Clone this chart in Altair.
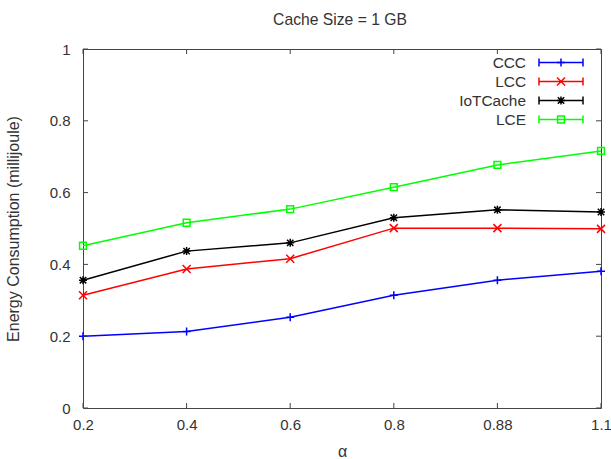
import altair as alt
import pandas as pd

# ---- data ----
alpha_labels = ["0.2", "0.4", "0.6", "0.8", "0.88", "1.1"]
series_names = ["CCC", "LCC", "IoTCache", "LCE"]
ccc = [0.200, 0.213, 0.253, 0.314, 0.356, 0.381]
lcc = [0.314, 0.387, 0.416, 0.501, 0.501, 0.499]
iotcache = [0.356, 0.437, 0.460, 0.530, 0.552, 0.546]
lce = [0.452, 0.516, 0.554, 0.615, 0.677, 0.716]
y_ticks = [0, 0.2, 0.4, 0.6, 0.8, 1.0]

colors = ["#0000ff", "#ff0000", "#000000", "#00ff00"]
shapes = [
    "M-1,0L1,0M0,-1L0,1",                                  # +
    "M-1,-1L1,1M-1,1L1,-1",                                # x
    "M-1,0L1,0M0,-1L0,1M-0.8,-0.8L0.8,0.8M-0.8,0.8L0.8,-0.8",  # asterisk
    "M-0.85,-0.85L0.85,-0.85L0.85,0.85L-0.85,0.85Z",       # open square
]

rows = []
for name, vals in zip(series_names, [ccc, lcc, iotcache, lce]):
    for a, v in zip(alpha_labels, vals):
        rows.append({"alpha": a, "energy": v, "series": name})
df = pd.DataFrame(rows)

W, H = 518, 359
FONT = "Liberation Sans"
TXT = "#333333"

xenc = alt.X(
    "alpha:O",
    sort=alpha_labels,
    scale=alt.Scale(type="point", padding=0, domain=alpha_labels),
    axis=alt.Axis(
        title="α", labelAngle=0, tickSize=0, domain=False, labelPadding=9,
        labelFontSize=15, titleFontSize=16, titlePadding=11,
        labelFont=FONT, titleFont=FONT, labelColor=TXT, titleColor=TXT,
        titleFontWeight="normal",
    ),
)
yscale = alt.Scale(domain=[0, 1], nice=False, zero=True)
yenc = alt.Y(
    "energy:Q",
    scale=yscale,
    axis=alt.Axis(
        title="Energy Consumption (millijoule)", values=y_ticks, tickSize=0,
        domain=False, grid=False, labelPadding=13, labelFontSize=15,
        titleFontSize=16, titlePadding=28, labelFont=FONT, titleFont=FONT,
        labelColor=TXT, titleColor=TXT, titleFontWeight="normal",
        labelExpr="datum.value == 0 ? '0' : datum.value == 1 ? '1' : format(datum.value, '.1f')",
    ),
)
color_enc = alt.Color("series:N", scale=alt.Scale(domain=series_names, range=colors), legend=None)
shape_enc = alt.Shape("series:N", scale=alt.Scale(domain=series_names, range=shapes), legend=None)

base = alt.Chart(df)
lines = base.mark_line(strokeWidth=1.5).encode(x=xenc, y=yenc, color=color_enc, detail="series:N")
points = base.mark_point(filled=False, size=64, strokeWidth=1.5, opacity=1).encode(
    x=alt.X("alpha:O", sort=alpha_labels), y="energy:Q", color=color_enc, shape=shape_enc
)

# inward tick marks (gnuplot style, mirrored)
xt = alt.Chart(pd.DataFrame({"alpha": alpha_labels}))
xticks_bottom = xt.mark_rule(color="#444", strokeWidth=1).encode(
    x=alt.X("alpha:O", sort=alpha_labels), y=alt.value(H), y2=alt.value(H - 5))
xticks_top = xt.mark_rule(color="#444", strokeWidth=1).encode(
    x=alt.X("alpha:O", sort=alpha_labels), y=alt.value(0), y2=alt.value(5))
yt = alt.Chart(pd.DataFrame({"energy": y_ticks}))
yticks_left = yt.mark_rule(color="#444", strokeWidth=1).encode(
    y="energy:Q", x=alt.value(0), x2=alt.value(5))
yticks_right = yt.mark_rule(color="#444", strokeWidth=1).encode(
    y="energy:Q", x=alt.value(W), x2=alt.value(W - 5))

# manual legend (label left, sample right)
legend_layers = []
for i, (name, col, shp) in enumerate(zip(series_names, colors, shapes)):
    ly = 13.5 + 19 * i
    ld = alt.Chart(pd.DataFrame({"series": [name]}))
    legend_layers.append(ld.mark_text(align="right", baseline="middle", fontSize=15.4,
                                      font=FONT, color=TXT).encode(
        text="series:N", x=alt.value(443), y=alt.value(ly)))
    legend_layers.append(ld.mark_rule(color=col, strokeWidth=1.5).encode(
        x=alt.value(456), x2=alt.value(500), y=alt.value(ly)))
    legend_layers.append(ld.mark_rule(color=col, strokeWidth=1.5).encode(
        x=alt.value(456), y=alt.value(ly - 4), y2=alt.value(ly + 4)))
    legend_layers.append(ld.mark_rule(color=col, strokeWidth=1.5).encode(
        x=alt.value(500), y=alt.value(ly - 4), y2=alt.value(ly + 4)))
    legend_layers.append(ld.mark_point(shape=shp, size=64, filled=False, strokeWidth=1.5,
                                       color=col, opacity=1).encode(
        x=alt.value(478), y=alt.value(ly)))

title_layer = alt.Chart(pd.DataFrame({"t": ["Cache Size = 1 GB"]})).mark_text(
    align="center", baseline="alphabetic", fontSize=15.7, font=FONT, color=TXT
).encode(text="t:N", x=alt.value(W / 2 - 2), y=alt.value(-24))

chart = alt.layer(
    lines, points, xticks_bottom, xticks_top, yticks_left, yticks_right,
    *legend_layers, title_layer
).properties(
    width=W, height=H,
    autosize=alt.AutoSizeParams(type="none"),
    padding={"left": 83, "top": 49, "right": 10, "bottom": 51},
    background="white",
).configure_view(stroke="#444", strokeWidth=1)

chart.save("out.html", embed_options={"renderer": "svg", "actions": False})
